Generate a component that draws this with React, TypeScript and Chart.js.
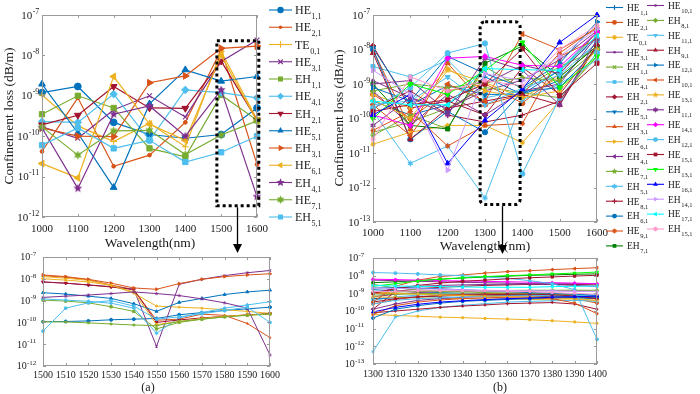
import React, { useEffect, useRef } from "react";
import { Chart, registerables } from "chart.js";

Chart.register(...registerables);

// ---------------- data ----------------
const wavelengthsTop = [1000, 1100, 1200, 1300, 1400, 1500, 1600];
const wavelengthsZoomA = [1500, 1510, 1520, 1530, 1540, 1550, 1560, 1570, 1580, 1590, 1600];
const wavelengthsZoomB = [1300, 1310, 1320, 1330, 1340, 1350, 1360, 1370, 1380, 1390, 1400];

const xTicksTop = [1000, 1100, 1200, 1300, 1400, 1500, 1600];
const xTicksZoomA = [1500, 1510, 1520, 1530, 1540, 1550, 1560, 1570, 1580, 1590, 1600];
const xTicksZoomB = [1300, 1310, 1320, 1330, 1340, 1350, 1360, 1370, 1380, 1390, 1400];

const yTicksA = [1e-12, 1e-11, 1e-10, 1e-9, 1e-8, 1e-7];
const yTickExpA = ["-12", "-11", "-10", "-9", "-8", "-7"];
const yTicksB = [1e-13, 1e-12, 1e-11, 1e-10, 1e-9, 1e-8, 1e-7];
const yTickExpB = ["-13", "-12", "-11", "-10", "-9", "-8", "-7"];

// mode names: "base|subscript"
const modesA = [
  "HE|1,1", "HE|2,1", "TE|0,1", "HE|3,1", "EH|1,1", "HE|4,1", "EH|2,1",
  "HE|5,1", "EH|3,1", "HE|6,1", "EH|4,1", "HE|7,1", "EH|5,1",
];
const modesB = [
  "HE|1,1", "HE|2,1", "TE|0,1", "HE|3,1", "EH|1,1", "HE|4,1", "EH|2,1", "HE|5,1", "EH|3,1",
  "HE|6,1", "EH|4,1", "HE|7,1", "EH|5,1", "HE|8,1", "EH|6,1", "HE|9,1", "EH|7,1",
  "HE|10,1", "EH|8,1", "HE|11,1", "EH|9,1", "HE|12,1", "EH|10,1", "HE|13,1", "EH|11,1",
  "HE|14,1", "EH|12,1", "HE|15,1", "EH|13,1", "HE|16,1", "EH|14,1", "HE|17,1", "EH|15,1",
];

// (a) top: confinement loss (dB/m) at 1000..1600 nm, one row per mode in modesA order
const lossTopA = [
  [1.2e-9, 1.7e-9, 2.2e-10, 1.1e-10, 8.9e-11, 1.1e-10, 5.0e-10],
  [4.2e-11, 8.9e-10, 1.8e-11, 3.4e-11, 2.2e-10, 1.4e-8, 2.0e-11],
  [1.05e-9, 1.8e-10, 7.4e-11, 2.1e-10, 5.5e-11, 1.26e-8, 2.6e-10],
  [1.7e-10, 8.9e-11, 4.5e-10, 1.0e-9, 3.0e-10, 7.1e-9, 2.4e-8],
  [3.5e-10, 1.0e-9, 5.0e-10, 5.0e-11, 3.1e-11, 1.05e-9, 2.5e-10],
  [2.3e-10, 2.2e-10, 1.1e-9, 7.9e-11, 1.4e-9, 1.2e-9, 8.9e-10],
  [1.9e-10, 3.3e-10, 1.7e-9, 5.0e-10, 4.9e-10, 7.2e-9, 2.5e-10],
  [1.95e-9, 1.2e-10, 5.4e-12, 6.3e-10, 4.4e-9, 2.3e-9, 3.0e-9],
  [1.6e-10, 1.0e-10, 9.8e-11, 2.1e-9, 3.1e-9, 1.5e-8, 1.7e-8],
  [2.1e-11, 9.3e-12, 3.0e-9, 2.0e-10, 7.9e-11, 1.0e-8, 2.4e-10],
  [1.6e-10, 5.1e-12, 3.5e-10, 5.6e-10, 1.0e-10, 1.4e-9, 3.2e-12],
  [1.7e-10, 3.4e-11, 1.35e-10, 1.4e-10, 3.5e-11, 1.07e-10, 2.4e-10],
  [6.0e-11, 1.6e-10, 5.0e-11, 7.9e-11, 2.3e-11, 4.0e-11, 1.0e-10],
];

// (a) zoom: 1500..1600 nm
const lossZoomA = [
  [1.07e-10, 1.1e-10, 1.17e-10, 1.32e-10, 1.41e-10, 1.51e-10, 2.24e-10, 2.82e-10, 3.55e-10, 4.17e-10, 5.0e-10],
  [1.4e-8, 1.17e-8, 8.9e-9, 5.2e-9, 3.2e-9, 1.26e-10, 1.41e-10, 2.4e-10, 2.1e-10, 8.9e-11, 2.0e-11],
  [1.26e-8, 1.07e-8, 8.5e-9, 5.0e-9, 2.2e-9, 5.6e-10, 5.0e-10, 4.5e-10, 3.8e-10, 3.2e-10, 2.6e-10],
  [7.1e-9, 6.3e-9, 5.2e-9, 4.4e-9, 3.3e-9, 7.9e-12, 5.6e-9, 9.5e-9, 1.4e-8, 1.9e-8, 2.4e-8],
  [1.05e-9, 9.5e-10, 7.9e-10, 5.2e-10, 3.2e-10, 5.0e-11, 1.0e-10, 1.4e-10, 1.8e-10, 2.2e-10, 2.5e-10],
  [1.2e-9, 1.05e-9, 9.3e-10, 7.6e-10, 4.5e-10, 3.2e-11, 1.6e-10, 2.8e-10, 4.5e-10, 6.3e-10, 8.9e-10],
  [7.2e-9, 6.3e-9, 5.2e-9, 4.2e-9, 3.2e-9, 1.0e-10, 1.3e-10, 1.6e-10, 1.9e-10, 2.2e-10, 2.5e-10],
  [2.3e-9, 2.0e-9, 1.6e-9, 1.26e-9, 7.2e-10, 3.2e-10, 8.3e-10, 1.26e-9, 1.9e-9, 2.5e-9, 3.0e-9],
  [1.5e-8, 1.26e-8, 9.5e-9, 6.3e-9, 3.8e-9, 3.3e-9, 6.0e-9, 9.5e-9, 1.26e-8, 1.5e-8, 1.7e-8],
  [1.0e-8, 8.7e-9, 7.2e-9, 5.0e-9, 2.5e-9, 7.9e-11, 1.1e-10, 1.5e-10, 1.9e-10, 2.2e-10, 2.4e-10],
  [1.4e-9, 1.6e-9, 1.8e-9, 2.1e-9, 2.5e-9, 2.1e-9, 1.7e-9, 1.2e-9, 7.9e-10, 4.5e-10, 3.2e-12],
  [1.07e-10, 1.05e-10, 9.5e-11, 8.5e-11, 7.6e-11, 7.1e-11, 1.1e-10, 1.4e-10, 1.8e-10, 2.1e-10, 2.4e-10],
  [4.0e-11, 4.5e-10, 7.9e-10, 1.0e-9, 5.6e-10, 1.4e-10, 1.8e-10, 2.5e-10, 3.5e-10, 5.0e-10, 1.0e-10],
];

// (b) top: 1000..1600 nm, one row per mode in modesB order
const lossTopB = [
  [3.2e-10, 1.26e-10, 2.5e-10, 1.6e-9, 5.0e-10, 1.26e-9, 1.6e-8],
  [5.0e-10, 1.0e-10, 6.3e-10, 1.0e-9, 2.8e-10, 2.0e-9, 3.2e-8],
  [1.8e-11, 4.0e-11, 6.3e-11, 6.3e-11, 2.0e-11, 3.2e-10, 7.9e-9],
  [1.26e-9, 4.0e-10, 2.0e-10, 6.3e-10, 1.3e-9, 5.0e-9, 3.5e-8],
  [4.0e-11, 7.9e-11, 2.0e-10, 7.9e-10, 5.6e-10, 4.0e-10, 6.3e-9],
  [3.2e-9, 1.6e-9, 5.0e-9, 4.0e-10, 6.3e-10, 2.5e-9, 2.0e-8],
  [1.26e-8, 2.0e-10, 3.2e-10, 1.26e-10, 3.0e-9, 5.0e-10, 1.26e-8],
  [1.1e-8, 2.5e-10, 8.9e-10, 5.0e-10, 5.0e-10, 2.5e-9, 3.2e-8],
  [1.0e-8, 5.0e-11, 4.0e-9, 2.5e-10, 5.0e-10, 7.9e-9, 4.5e-8],
  [5.0e-10, 2.0e-10, 2.8e-9, 6.3e-10, 4.0e-10, 1.6e-9, 1.26e-8],
  [6.3e-10, 6.3e-11, 5.0e-10, 1.26e-10, 6.3e-10, 1.0e-9, 2.5e-8],
  [3.2e-11, 1.26e-10, 5.0e-11, 3.2e-9, 7.1e-10, 3.2e-9, 1.0e-8],
  [1.6e-10, 5.0e-12, 1.6e-11, 5.0e-13, 3.5e-10, 1.0e-9, 5.0e-9],
  [2.0e-10, 6.3e-10, 1.26e-10, 7.9e-11, 1.26e-10, 3.2e-10, 1.26e-8],
  [1.0e-8, 2.5e-11, 1.6e-10, 4.0e-11, 6.0e-10, 7.9e-10, 1.0e-8],
  [4.5e-11, 1.6e-10, 1.6e-11, 6.3e-11, 7.1e-11, 6.3e-9, 2.0e-8],
  [1.0e-9, 6.3e-11, 5.0e-11, 4.0e-9, 1.26e-8, 1.6e-9, 1.26e-8],
  [1.0e-9, 1.26e-9, 1.6e-10, 1.0e-9, 3.5e-9, 2.0e-9, 2.5e-8],
  [6.3e-10, 1.0e-9, 7.9e-10, 1.1e-9, 1.5e-9, 1.26e-9, 1.0e-8],
  [2.5e-10, 3.2e-10, 1.6e-9, 2.5e-10, 7.6e-10, 1.8e-9, 1.6e-8],
  [7.9e-9, 2.5e-11, 2.0e-10, 3.2e-10, 5.0e-10, 2.5e-10, 1.4e-8],
  [7.9e-10, 3.2e-10, 6.3e-9, 2.0e-9, 7.9e-10, 4.0e-9, 6.3e-8],
  [2.5e-10, 3.2e-11, 1.0e-9, 3.2e-10, 2.8e-8, 1.0e-8, 4.0e-8],
  [3.5e-10, 1.0e-10, 2.5e-9, 1.1e-9, 4.0e-10, 6.3e-10, 1.0e-8],
  [6.3e-11, 4.0e-10, 1.26e-10, 5.6e-9, 2.5e-9, 2.5e-10, 2.0e-8],
  [1.26e-10, 6.3e-11, 5.6e-9, 6.3e-9, 3.5e-9, 3.2e-9, 3.2e-8],
  [2.0e-10, 7.9e-10, 7.9e-9, 1.5e-8, 2.5e-12, 4.0e-10, 7.9e-9],
  [1.6e-10, 2.5e-10, 3.5e-10, 1.0e-9, 1.05e-8, 4.5e-10, 4.0e-9],
  [1.0e-10, 1.0e-9, 5.0e-10, 2.5e-9, 1.6e-8, 7.9e-10, 6.3e-9],
  [1.26e-10, 5.0e-10, 5.0e-12, 8.9e-11, 7.1e-10, 1.6e-8, 1.0e-7],
  [2.5e-9, 5.0e-10, 3.2e-12, 2.0e-9, 1.26e-9, 6.3e-9, 4.0e-8],
  [3.2e-10, 2.5e-10, 2.5e-10, 2.8e-9, 2.6e-9, 2.5e-9, 2.5e-8],
  [2.5e-11, 1.6e-9, 6.3e-10, 1.26e-9, 8.9e-10, 1.0e-8, 5.0e-8],
];

// (b) zoom: 1300..1400 nm
const lossZoomB = [
  [1.6e-9, 1.4e-9, 1.26e-9, 1.1e-9, 1.0e-9, 8.9e-10, 7.9e-10, 7.1e-10, 6.3e-10, 5.6e-10, 5.0e-10],
  [1.0e-9, 1.0e-9, 9.5e-10, 8.9e-10, 8.3e-10, 7.9e-10, 7.6e-10, 7.1e-10, 6.6e-10, 5.0e-10, 2.8e-10],
  [6.3e-11, 5.6e-11, 5.0e-11, 4.5e-11, 4.2e-11, 3.8e-11, 3.5e-11, 3.2e-11, 2.8e-11, 2.4e-11, 2.0e-11],
  [6.3e-10, 8.9e-10, 1.1e-9, 1.26e-9, 1.3e-9, 1.4e-9, 1.4e-9, 1.4e-9, 1.4e-9, 1.4e-9, 1.3e-9],
  [7.9e-10, 8.9e-10, 9.5e-10, 1.0e-9, 1.0e-9, 9.5e-10, 8.9e-10, 8.3e-10, 7.6e-10, 6.6e-10, 5.6e-10],
  [4.0e-10, 6.3e-10, 7.9e-10, 8.9e-10, 9.5e-10, 1.0e-9, 1.0e-9, 9.5e-10, 8.9e-10, 7.9e-10, 6.3e-10],
  [1.26e-10, 1.26e-9, 1.8e-9, 2.2e-9, 2.5e-9, 2.8e-9, 3.0e-9, 3.2e-9, 3.2e-9, 3.2e-9, 3.0e-9],
  [5.0e-10, 5.6e-10, 6.3e-10, 7.1e-10, 7.6e-10, 7.9e-10, 7.9e-10, 7.6e-10, 7.1e-10, 6.3e-10, 5.0e-10],
  [2.5e-10, 4.5e-10, 6.3e-10, 7.9e-10, 8.9e-10, 9.5e-10, 1.0e-9, 1.0e-9, 9.5e-10, 7.9e-10, 5.0e-10],
  [6.3e-10, 6.0e-10, 5.6e-10, 5.4e-10, 5.0e-10, 4.8e-10, 4.7e-10, 4.5e-10, 4.3e-10, 4.2e-10, 4.0e-10],
  [1.26e-10, 2.5e-10, 4.0e-10, 5.0e-10, 6.0e-10, 6.6e-10, 7.1e-10, 7.6e-10, 7.6e-10, 7.1e-10, 6.3e-10],
  [3.2e-9, 2.0e-9, 1.6e-9, 1.3e-9, 1.2e-9, 1.1e-9, 1.05e-9, 1.0e-9, 8.9e-10, 7.9e-10, 7.1e-10],
  [5.0e-13, 4.5e-11, 1.0e-10, 1.6e-10, 2.1e-10, 2.6e-10, 3.2e-10, 3.5e-10, 3.8e-10, 4.0e-10, 3.5e-10],
  [7.9e-11, 1.0e-10, 1.26e-10, 1.6e-10, 1.9e-10, 2.2e-10, 2.6e-10, 2.8e-10, 3.0e-10, 2.5e-10, 1.26e-10],
  [4.0e-11, 1.26e-10, 2.0e-10, 2.8e-10, 3.5e-10, 4.0e-10, 4.5e-10, 5.0e-10, 5.2e-10, 5.6e-10, 6.0e-10],
  [6.3e-11, 2.0e-10, 3.2e-10, 4.2e-10, 5.0e-10, 5.6e-10, 6.0e-10, 6.0e-10, 5.0e-10, 2.8e-10, 7.1e-11],
  [4.0e-9, 4.5e-9, 5.2e-9, 6.3e-9, 7.4e-9, 8.3e-9, 9.3e-9, 1.05e-8, 1.1e-8, 1.2e-8, 1.26e-8],
  [1.0e-9, 2.0e-9, 2.5e-9, 2.8e-9, 3.0e-9, 3.2e-9, 3.3e-9, 3.5e-9, 3.5e-9, 3.5e-9, 3.5e-9],
  [1.1e-9, 1.2e-9, 1.26e-9, 1.3e-9, 1.4e-9, 1.4e-9, 1.45e-9, 1.5e-9, 1.5e-9, 1.5e-9, 1.5e-9],
  [2.5e-10, 4.0e-10, 5.0e-10, 5.6e-10, 6.3e-10, 6.6e-10, 7.1e-10, 7.4e-10, 7.6e-10, 7.6e-10, 7.6e-10],
  [3.2e-10, 5.0e-10, 6.3e-10, 7.1e-10, 7.9e-10, 8.3e-10, 8.9e-10, 8.9e-10, 8.3e-10, 7.1e-10, 5.0e-10],
  [2.0e-9, 2.1e-9, 2.0e-9, 1.8e-9, 1.6e-9, 1.4e-9, 1.26e-9, 1.1e-9, 1.0e-9, 8.9e-10, 7.9e-10],
  [3.2e-10, 2.5e-9, 5.6e-9, 8.9e-9, 1.1e-8, 1.4e-8, 1.7e-8, 1.9e-8, 2.2e-8, 2.5e-8, 2.8e-8],
  [1.1e-9, 1.0e-9, 8.9e-10, 7.9e-10, 7.6e-10, 7.1e-10, 6.6e-10, 6.3e-10, 5.6e-10, 5.0e-10, 4.0e-10],
  [5.6e-9, 5.2e-9, 4.8e-9, 4.5e-9, 4.2e-9, 4.0e-9, 3.8e-9, 3.5e-9, 3.2e-9, 2.8e-9, 2.5e-9],
  [6.3e-9, 6.0e-9, 5.6e-9, 5.2e-9, 5.0e-9, 4.8e-9, 4.5e-9, 4.3e-9, 4.0e-9, 3.8e-9, 3.5e-9],
  [1.5e-8, 1.4e-8, 1.26e-8, 1.1e-8, 1.0e-8, 8.3e-9, 7.1e-9, 5.2e-9, 3.5e-9, 1.6e-9, 2.5e-12],
  [1.0e-9, 1.8e-9, 2.8e-9, 3.8e-9, 4.8e-9, 5.6e-9, 6.6e-9, 7.6e-9, 8.5e-9, 9.5e-9, 1.05e-8],
  [2.5e-9, 3.5e-9, 5.0e-9, 6.3e-9, 7.6e-9, 8.9e-9, 1.0e-8, 1.1e-8, 1.26e-8, 1.4e-8, 1.6e-8],
  [8.9e-11, 1.6e-10, 2.4e-10, 3.2e-10, 3.8e-10, 4.4e-10, 5.0e-10, 5.4e-10, 6.0e-10, 6.3e-10, 7.1e-10],
  [2.0e-9, 1.9e-9, 1.8e-9, 1.7e-9, 1.6e-9, 1.5e-9, 1.45e-9, 1.4e-9, 1.4e-9, 1.3e-9, 1.26e-9],
  [2.8e-9, 2.6e-9, 2.5e-9, 2.4e-9, 2.3e-9, 2.2e-9, 2.2e-9, 2.2e-9, 2.4e-9, 2.5e-9, 2.6e-9],
  [1.26e-9, 1.3e-9, 1.4e-9, 1.4e-9, 1.4e-9, 1.4e-9, 1.3e-9, 1.26e-9, 1.1e-9, 1.0e-9, 8.9e-10],
];

// ---------------- styles ----------------
const C = {
  blue: "#0072BD", orange: "#D95319", yellow: "#EDB120", purple: "#7E2F8E",
  green: "#77AC30", cyan: "#4DBEEE", red: "#A2142F",
};
const colorsA = [C.blue, C.orange, C.yellow, C.purple, C.green, C.cyan, C.red,
  C.blue, C.orange, C.yellow, C.purple, C.green, C.cyan];
const markersA = ["o", ".", "+", "x", "s", "d", "v", "^", ">", "<", "p", "h", "s"];

const colorsB = [C.blue, C.orange, C.yellow, C.purple, C.green, C.cyan, C.red, C.blue, C.orange,
  C.yellow, C.purple, C.green, C.cyan, C.red, C.blue, C.orange, "#008000",
  C.purple, C.green, C.cyan, C.red, C.blue, C.orange, C.yellow, C.purple,
  "#FF00FF", C.cyan, C.red, "#00FF00", "#0000FF", "#CC99FF", "#00FFFF", "#FF99CC"];
const markersB = ["+", "o", "*", ".", "x", "s", "d", "v", "^", ">", "<", "p", "h", "+", "o", "*", "s",
  ".", "d", "v", "^", ">", "<", "p", "h", "d", "o", "s", "v", "^", ">", "<", "*"];

const FONT = '"Liberation Serif", "Times New Roman", serif';
const TEXT = "#1a1a1a";
const FRAME = "#9a9a9a";

// ---------------- panel layout ----------------
const PANELS: any[] = [
  {
    canvas: { x: 0, y: 0, w: 360, h: 258 },
    area: { l: 42, t: 15, r: 257, b: 217 },
    xs: wavelengthsTop, series: lossTopA, names: modesA, colors: colorsA, markers: markersA,
    xMin: 1000, xMax: 1600, yMin: 1e-12, yMax: 1e-7,
    xTicks: xTicksTop, yTicks: yTicksA, yExp: yTickExpA,
    tickFont: 11, supFont: 8, xLabelDy: 12, yLabelGap: 3,
    pointR: 3.4, lineW: 1.2,
    xTitle: { x: 150, y: 243, size: 13.5 },
    yTitle: { x: 9, y: 116, size: 13.5 },
    legend: { cols: [{ x0: 269, y0: 10, from: 0, to: 13 }], lineLen: 23, gap: 3, dy: 17.25, font: 12, sub: 8, r: 3.2 },
    box: { x1: 1488, x2: 1605, y1: 2.3e-8, y2: 1.9e-12, round: 0 },
    arrow: { x: 1544, tipY: 253 },
  },
  {
    canvas: { x: 320, y: 0, w: 380, h: 258 },
    area: { l: 373, t: 15, r: 597, b: 222 },
    xs: wavelengthsTop, series: lossTopB, names: modesB, colors: colorsB, markers: markersB,
    xMin: 1000, xMax: 1600, yMin: 1e-13, yMax: 1e-7,
    xTicks: xTicksTop, yTicks: yTicksB, yExp: yTickExpB,
    tickFont: 11, supFont: 8, xLabelDy: 11, yLabelGap: 3,
    pointR: 2.6, lineW: 1,
    xTitle: { x: 485, y: 246, size: 13.5 },
    yTitle: { x: 339, y: 118, size: 13.5 },
    legend: {
      cols: [{ x0: 606, y0: 7.5, from: 0, to: 17 }, { x0: 647, y0: 5.5, from: 17, to: 33 }],
      lineLen: 17, gap: 4, dy: 14.9, font: 9.5, sub: 6.5, r: 2.4,
    },
    box: { x1: 1287, x2: 1394, y1: 6.4e-8, y2: 3.2e-13, round: 5 },
    arrow: { x: 1345, tipY: 254 },
  },
  {
    canvas: { x: 0, y: 244, w: 350, h: 150 },
    area: { l: 43, t: 257, r: 270, b: 366 },
    xs: wavelengthsZoomA, series: lossZoomA, names: modesA, colors: colorsA, markers: markersA,
    xMin: 1500, xMax: 1600, yMin: 1e-12, yMax: 1e-7,
    xTicks: xTicksZoomA, yTicks: yTicksA, yExp: yTickExpA,
    tickFont: 10, supFont: 7, xLabelDy: 9, yLabelGap: 7,
    pointR: 1.5, lineW: 1,
    caption: { text: "(a)", x: 148, y: 388, size: 12 },
  },
  {
    canvas: { x: 340, y: 244, w: 360, h: 150 },
    area: { l: 373, t: 258, r: 597, b: 364 },
    xs: wavelengthsZoomB, series: lossZoomB, names: modesB, colors: colorsB, markers: markersB,
    xMin: 1300, xMax: 1400, yMin: 1e-13, yMax: 1e-7,
    xTicks: xTicksZoomB, yTicks: yTicksB, yExp: yTickExpB,
    tickFont: 10, supFont: 7, xLabelDy: 10, yLabelGap: 9,
    pointR: 1.5, lineW: 1,
    caption: { text: "(b)", x: 500, y: 388, size: 12 },
  },
];

// ---------------- marker helpers ----------------
const starCache: Record<string, HTMLCanvasElement> = {};
function starCanvas(color: string, points: number, outer: number) {
  const key = color + points + outer;
  if (starCache[key]) return starCache[key];
  const size = Math.ceil(outer * 2 + 2);
  const c = document.createElement("canvas");
  c.width = size;
  c.height = size;
  const g = c.getContext("2d")!;
  const cx = size / 2, cy = size / 2;
  const inner = outer * (points === 5 ? 0.45 : 0.55);
  g.beginPath();
  for (let k = 0; k < points * 2; k++) {
    const a = -Math.PI / 2 + (k * Math.PI) / points;
    const rr = k % 2 ? inner : outer;
    const px = cx + Math.cos(a) * rr, py = cy + Math.sin(a) * rr;
    if (k === 0) g.moveTo(px, py);
    else g.lineTo(px, py);
  }
  g.closePath();
  g.fillStyle = color;
  g.fill();
  starCache[key] = c;
  return c;
}

function pointStyleFor(m: string, color: string, r: number) {
  switch (m) {
    case "o": return { style: "circle", rot: 0, radius: r, bw: 1 };
    case ".": return { style: "circle", rot: 0, radius: r * 0.55, bw: 1 };
    case "s": return { style: "rect", rot: 0, radius: r * 1.1, bw: 1 };
    case "d": return { style: "rectRot", rot: 0, radius: r * 1.1, bw: 1 };
    case "^": return { style: "triangle", rot: 0, radius: r * 1.15, bw: 1 };
    case "v": return { style: "triangle", rot: 180, radius: r * 1.15, bw: 1 };
    case ">": return { style: "triangle", rot: 90, radius: r * 1.15, bw: 1 };
    case "<": return { style: "triangle", rot: 270, radius: r * 1.15, bw: 1 };
    case "+": return { style: "cross", rot: 0, radius: r, bw: 1.1 };
    case "x": return { style: "crossRot", rot: 0, radius: r, bw: 1.1 };
    case "*": return { style: "star", rot: 0, radius: r, bw: 1.1 };
    case "p": return { style: starCanvas(color, 5, r * 1.35), rot: 0, radius: r, bw: 1 };
    case "h": return { style: starCanvas(color, 6, r * 1.3), rot: 0, radius: r, bw: 1 };
  }
  return { style: "circle", rot: 0, radius: r, bw: 1 };
}

function drawMarker(ctx: CanvasRenderingContext2D, m: string, x: number, y: number, r: number, color: string) {
  ctx.save();
  ctx.fillStyle = color;
  ctx.strokeStyle = color;
  ctx.lineWidth = 1.1;
  ctx.setLineDash([]);
  const tri = (deg: number) => {
    const R = r * 1.15;
    let a = (deg * Math.PI) / 180;
    ctx.beginPath();
    for (let k = 0; k < 3; k++) {
      const px = x + Math.sin(a) * R, py = y - Math.cos(a) * R;
      if (k === 0) ctx.moveTo(px, py);
      else ctx.lineTo(px, py);
      a += (2 * Math.PI) / 3;
    }
    ctx.closePath();
    ctx.fill();
  };
  const line = (x1: number, y1: number, x2: number, y2: number) => {
    ctx.beginPath();
    ctx.moveTo(x1, y1);
    ctx.lineTo(x2, y2);
    ctx.stroke();
  };
  switch (m) {
    case "o": ctx.beginPath(); ctx.arc(x, y, r, 0, Math.PI * 2); ctx.fill(); break;
    case ".": ctx.beginPath(); ctx.arc(x, y, r * 0.55, 0, Math.PI * 2); ctx.fill(); break;
    case "s": { const s = r * 1.1 * Math.SQRT1_2; ctx.fillRect(x - s, y - s, 2 * s, 2 * s); break; }
    case "d": { const R = r * 1.1; ctx.beginPath(); ctx.moveTo(x - R, y); ctx.lineTo(x, y - R); ctx.lineTo(x + R, y); ctx.lineTo(x, y + R); ctx.closePath(); ctx.fill(); break; }
    case "^": tri(0); break;
    case "v": tri(180); break;
    case ">": tri(90); break;
    case "<": tri(270); break;
    case "+": line(x - r, y, x + r, y); line(x, y - r, x, y + r); break;
    case "x": { const d = r * Math.SQRT1_2; line(x - d, y - d, x + d, y + d); line(x - d, y + d, x + d, y - d); break; }
    case "*": { const d = r * Math.SQRT1_2; line(x - r, y, x + r, y); line(x, y - r, x, y + r); line(x - d, y - d, x + d, y + d); line(x - d, y + d, x + d, y - d); break; }
    case "p": case "h": {
      const img = starCanvas(color, m === "p" ? 5 : 6, r * (m === "p" ? 1.35 : 1.3));
      ctx.drawImage(img, x - img.width / 2, y - img.height / 2);
      break;
    }
  }
  ctx.restore();
}

function drawModeName(ctx: CanvasRenderingContext2D, name: string, x: number, y: number, font: number, sub: number) {
  const [base, s] = name.split("|");
  ctx.textAlign = "left";
  ctx.textBaseline = "alphabetic";
  ctx.fillStyle = TEXT;
  ctx.font = `${font}px ${FONT}`;
  const baseY = y + font * 0.35;
  ctx.fillText(base, x, baseY);
  const w = ctx.measureText(base).width;
  ctx.font = `${sub}px ${FONT}`;
  ctx.fillText(s, x + w + 0.5, baseY + font * 0.42);
}

// ---------------- decoration plugin ----------------
function decorPlugin(p: any) {
  return {
    id: "decor",
    afterDatasetsDraw(chart: any) {
      const ctx: CanvasRenderingContext2D = chart.ctx;
      const xs = chart.scales.x, ys = chart.scales.y;
      const ox = p.canvas.x, oy = p.canvas.y;
      const X = (v: number) => xs.getPixelForValue(v) + ox;
      const Y = (v: number) => ys.getPixelForValue(v) + oy;
      const ca = chart.chartArea;
      const L = ca.left + ox, T = ca.top + oy, R = ca.right + ox, B = ca.bottom + oy;
      ctx.save();
      ctx.translate(-ox, -oy);

      // frame
      ctx.strokeStyle = FRAME;
      ctx.lineWidth = 1;
      ctx.setLineDash([]);
      ctx.strokeRect(Math.round(L) + 0.5, Math.round(T) + 0.5, Math.round(R - L) - 1, Math.round(B - T) - 1);
      // inward ticks
      ctx.beginPath();
      for (const v of p.xTicks) {
        const px = Math.round(X(v)) + 0.5;
        ctx.moveTo(px, B); ctx.lineTo(px, B - 3);
        ctx.moveTo(px, T); ctx.lineTo(px, T + 3);
      }
      for (const v of p.yTicks) {
        const py = Math.round(Y(v)) + 0.5;
        ctx.moveTo(L, py); ctx.lineTo(L + 3, py);
        ctx.moveTo(R, py); ctx.lineTo(R - 3, py);
      }
      ctx.stroke();

      // x tick labels
      ctx.fillStyle = TEXT;
      ctx.font = `${p.tickFont}px ${FONT}`;
      ctx.textAlign = "center";
      ctx.textBaseline = "middle";
      for (const v of p.xTicks) ctx.fillText(String(v), X(v), B + p.xLabelDy);

      // y tick labels 10^n
      p.yTicks.forEach((v: number, i: number) => {
        const py = Y(v);
        const sup = p.yExp[i];
        ctx.textBaseline = "alphabetic";
        ctx.textAlign = "left";
        ctx.font = `${p.supFont}px ${FONT}`;
        const sw = ctx.measureText(sup).width;
        ctx.font = `${p.tickFont}px ${FONT}`;
        const bw = ctx.measureText("10").width;
        const x0 = L - p.yLabelGap - sw - bw;
        const base = py + p.tickFont * 0.33;
        ctx.fillText("10", x0, base);
        ctx.font = `${p.supFont}px ${FONT}`;
        ctx.fillText(sup, x0 + bw + 0.3, base - p.tickFont * 0.45);
      });

      // titles
      if (p.xTitle) {
        ctx.font = `${p.xTitle.size}px ${FONT}`;
        ctx.textAlign = "center";
        ctx.textBaseline = "middle";
        ctx.fillText("Wavelength(nm)", p.xTitle.x, p.xTitle.y);
      }
      if (p.yTitle) {
        ctx.save();
        ctx.translate(p.yTitle.x, p.yTitle.y);
        ctx.rotate(-Math.PI / 2);
        ctx.font = `${p.yTitle.size}px ${FONT}`;
        ctx.textAlign = "center";
        ctx.textBaseline = "middle";
        ctx.fillText("Confinement loss (dB/m)", 0, 0);
        ctx.restore();
      }
      if (p.caption) {
        ctx.font = `${p.caption.size}px ${FONT}`;
        ctx.textAlign = "center";
        ctx.textBaseline = "middle";
        ctx.fillText(p.caption.text, p.caption.x, p.caption.y);
      }

      // legend
      if (p.legend) {
        const lg = p.legend;
        for (const col of lg.cols) {
          for (let i = col.from; i < col.to; i++) {
            const y = col.y0 + (i - col.from) * lg.dy;
            const color = p.colors[i];
            ctx.strokeStyle = color;
            ctx.lineWidth = 1.1;
            ctx.beginPath();
            ctx.moveTo(col.x0, y);
            ctx.lineTo(col.x0 + lg.lineLen, y);
            ctx.stroke();
            drawMarker(ctx, p.markers[i], col.x0 + lg.lineLen / 2, y, lg.r, color);
            drawModeName(ctx, p.names[i], col.x0 + lg.lineLen + lg.gap, y, lg.font, lg.sub);
          }
        }
      }

      // dotted zoom box + arrow
      if (p.box) {
        const bx1 = X(p.box.x1), bx2 = X(p.box.x2), by1 = Y(p.box.y1), by2 = Y(p.box.y2);
        ctx.strokeStyle = "#000";
        ctx.lineWidth = 3;
        ctx.setLineDash([3, 3]);
        ctx.beginPath();
        if (p.box.round && (ctx as any).roundRect) (ctx as any).roundRect(bx1, by1, bx2 - bx1, by2 - by1, p.box.round);
        else ctx.rect(bx1, by1, bx2 - bx1, by2 - by1);
        ctx.stroke();
        ctx.setLineDash([]);
        if (p.arrow) {
          const ax = Math.round(X(p.arrow.x)) + 0.5;
          const tip = p.arrow.tipY;
          ctx.lineWidth = 1.3;
          ctx.beginPath();
          ctx.moveTo(ax, by2 + 1.5);
          ctx.lineTo(ax, tip - 8);
          ctx.stroke();
          ctx.fillStyle = "#000";
          ctx.beginPath();
          ctx.moveTo(ax - 4.5, tip - 9);
          ctx.lineTo(ax + 4.5, tip - 9);
          ctx.lineTo(ax, tip);
          ctx.closePath();
          ctx.fill();
        }
      }
      ctx.restore();
    },
  };
}

function buildConfig(p: any) {
  const datasets = p.series.map((vals: number[], i: number) => {
    const ps = pointStyleFor(p.markers[i], p.colors[i], p.pointR);
    return {
      label: p.names[i],
      data: p.xs.map((x: number, j: number) => ({ x, y: vals[j] })),
      borderColor: p.colors[i],
      backgroundColor: p.colors[i],
      borderWidth: p.lineW,
      pointStyle: ps.style,
      pointRotation: ps.rot,
      pointRadius: ps.radius,
      pointBorderWidth: ps.bw,
      pointBackgroundColor: p.colors[i],
      pointBorderColor: p.colors[i],
      pointHoverRadius: ps.radius,
      tension: 0,
      fill: false,
      clip: false,
      order: p.series.length - i,
    };
  });
  const c = p.canvas, a = p.area;
  return {
    type: "line",
    data: { datasets },
    options: {
      animation: false,
      responsive: false,
      devicePixelRatio: 1,
      events: [],
      layout: {
        padding: { left: a.l - c.x, top: a.t - c.y, right: c.x + c.w - a.r, bottom: c.y + c.h - a.b },
      },
      scales: {
        x: { type: "linear", min: p.xMin, max: p.xMax, display: false },
        y: { type: "logarithmic", min: p.yMin, max: p.yMax, display: false },
      },
      plugins: { legend: { display: false }, tooltip: { enabled: false } },
    },
    plugins: [decorPlugin(p)],
  } as any;
}

export default function App() {
  const canvases = useRef<(HTMLCanvasElement | null)[]>([]);
  useEffect(() => {
    const charts = PANELS.map((p, i) => new Chart(canvases.current[i] as HTMLCanvasElement, buildConfig(p)));
    return () => charts.forEach((ch) => ch.destroy());
  }, []);
  return (
    <div style={{ position: "fixed", left: 0, top: 0, width: 700, height: 394, background: "#fff", overflow: "hidden" }}>
      {PANELS.map((p, i) => (
        <canvas
          key={i}
          ref={(el) => { canvases.current[i] = el; }}
          width={p.canvas.w}
          height={p.canvas.h}
          style={{ position: "absolute", left: p.canvas.x, top: p.canvas.y, width: p.canvas.w, height: p.canvas.h }}
        />
      ))}
    </div>
  );
}
